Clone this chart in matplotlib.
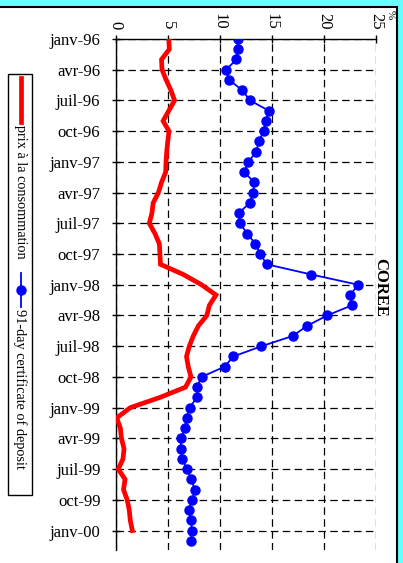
import numpy as np
import matplotlib.pyplot as plt
from matplotlib.patches import Rectangle
from matplotlib.lines import Line2D

plt.rcParams['font.family'] = ['Liberation Serif', 'DejaVu Serif']

# monthly data, janv-96 onwards
cd91 = [11.7, 11.7, 11.6, 10.6, 10.9, 12.15, 12.9, 14.7, 14.4, 14.2,
        13.75, 13.5, 12.75, 12.35, 13.3, 13.2, 12.9, 11.8, 11.9, 12.65,
        13.4, 13.9, 14.5, 18.8, 23.3, 22.5, 22.7, 20.3, 18.4, 17.0,
        14.0, 11.3, 10.45, 8.25, 7.8, 7.8, 7.1, 6.8, 6.65, 6.25,
        6.25, 6.35, 6.85, 7.25, 7.6, 7.35, 7.0, 7.25, 7.3, 7.25]
cpi = [5.1, 5.15, 4.4, 4.45, 4.85, 5.3, 5.65, 5.1, 4.55, 5.12,
       5.0, 4.9, 4.83, 4.8, 4.4, 4.1, 3.6, 3.48, 3.23, 3.77,
       4.19, 4.25, 4.3, 6.5, 8.25, 9.63, 9.0, 8.75, 7.95, 7.45,
       7.07, 6.8, 6.97, 7.23, 6.7, 4.25, 1.4, 0.1, 0.45, 0.55,
       0.8, 0.7, 0.25, 0.9, 0.75, 1.1, 1.3, 1.4, 1.6]
date_labels = ['janv-96', 'avr-96', 'juil-96', 'oct-96',
               'janv-97', 'avr-97', 'juil-97', 'oct-97',
               'janv-98', 'avr-98', 'juil-98', 'oct-98',
               'janv-99', 'avr-99', 'juil-99', 'oct-99', 'janv-00']
value_ticks = [0, 5, 10, 15, 20, 25]

W, H = 403, 563
fig = plt.figure(figsize=(W / 100, H / 100), dpi=100, facecolor='#66FFFF')


def fx(x):
    return x / W


def fy(y):
    return 1 - y / H


# white panel with black frame (left and bottom edges off the picture)
fig.patches.append(Rectangle((fx(-10), fy(575)), fx(396.5) - fx(-10), fy(7) - fy(575),
                             transform=fig.transFigure, facecolor='white',
                             edgecolor='black', linewidth=1.5, zorder=-5))

ax = fig.add_axes([fx(115.7), fy(550), fx(376) - fx(115.7), fy(39) - fy(550)])
ax.set_facecolor('none')
ax.set_zorder(2)

ax.plot(cpi, np.arange(len(cpi)), color='#FF0000', lw=3.4, zorder=3,
        solid_joinstyle='miter')
ax.plot(cd91, np.arange(len(cd91)), color='#0000FF', lw=1.3, marker='o',
        ms=6.5, zorder=4)

ax.set_xlim(0, 25)
ax.set_ylim(49.9, 0)
ax.xaxis.tick_top()
ax.set_xticks(value_ticks)
ax.set_xticklabels([str(v) for v in value_ticks], rotation=-90, fontsize=12)
ax.set_yticks(np.arange(len(date_labels)) * 3)
ax.set_yticklabels(date_labels, fontsize=12)
ax.tick_params(axis='x', direction='inout', length=6, width=1, pad=4)
ax.tick_params(axis='y', direction='inout', length=6, width=1, pad=8)
for s in ['right', 'bottom']:
    ax.spines[s].set_visible(False)
ax.spines['left'].set_linewidth(1)
ax.spines['top'].set_linewidth(1)
ax.grid(True, color='black', linestyle=(0, (6, 3.5)), linewidth=0.9)
ax.set_axisbelow(True)

fig.text(fx(390), fy(15), '%', rotation=-90, fontsize=8,
         ha='center', va='center')
fig.text(fx(380), fy(287), 'COREE', rotation=-90, fontsize=12,
         fontweight='bold', ha='center', va='center')

# legend box, rotated
fig.patches.append(Rectangle((fx(8), fy(495)), fx(32) - fx(8), fy(74) - fy(495),
                             transform=fig.transFigure, facecolor='white',
                             edgecolor='black', linewidth=1))
fig.lines.append(Line2D([fx(21), fx(21)], [fy(78), fy(122)],
                        transform=fig.transFigure, color='#FF0000', lw=3.4))
fig.text(fx(20), fy(125), 'prix à la consommation', rotation=-90,
         fontsize=10.3, ha='center', va='top')
fig.lines.append(Line2D([fx(21), fx(21)], [fy(273), fy(307)],
                        transform=fig.transFigure, color='#0000FF', lw=1.3))
fig.lines.append(Line2D([fx(21)], [fy(290)], transform=fig.transFigure,
                        color='#0000FF', marker='o', ms=6.5))
fig.text(fx(20), fy(309), '91-day certificate of deposit', rotation=-90,
         fontsize=10.3, ha='center', va='top')

fig.savefig('out.png', dpi=100, facecolor=fig.get_facecolor())
